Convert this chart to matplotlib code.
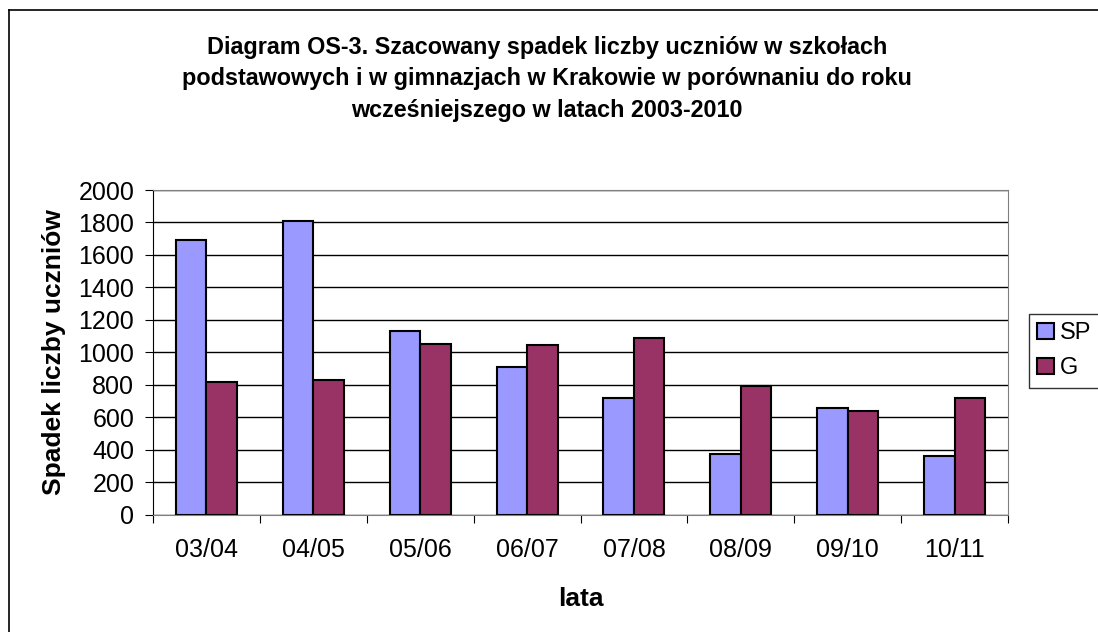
import numpy as np
import matplotlib
matplotlib.use("Agg")
import matplotlib.pyplot as plt
from matplotlib.lines import Line2D

plt.rcParams['font.family'] = ['Liberation Sans', 'DejaVu Sans']

lata = ["03/04", "04/05", "05/06", "06/07", "07/08", "08/09", "09/10", "10/11"]
sp = [1690, 1810, 1130, 910, 720, 370, 655, 360]
g = [815, 830, 1050, 1045, 1090, 790, 640, 715]

fig = plt.figure(figsize=(10.98, 6.32), dpi=100)
ax = fig.add_axes([153/1098, 1 - 514.5/632, (1008 - 153)/1098, (514.5 - 190)/632])

x = np.arange(len(lata))
w = 0.285
ax.bar(x - w/2, sp, w, color="#9999FF", edgecolor="black", linewidth=1.5, label="SP", zorder=3)
ax.bar(x + w/2, g, w, color="#993366", edgecolor="black", linewidth=1.5, label="G", zorder=3)

ax.set_xlim(-0.5, len(lata) - 0.5)
ax.set_ylim(0, 2000)
ax.set_yticks(range(0, 2001, 200))
ax.yaxis.grid(True, color="black", linewidth=1, zorder=0)
ax.set_axisbelow(True)

ax.set_xticks(np.arange(-0.5, len(lata), 1))
ax.set_xticklabels([])
ax.set_xticks(x, minor=True)
ax.set_xticklabels(lata, minor=True)
ax.tick_params(axis="x", which="major", length=6, direction="out", color="black")
ax.tick_params(axis="x", which="minor", length=0, labelsize=18, pad=17)
ax.tick_params(axis="y", length=6, direction="out", labelsize=18, pad=7.5)

for s in ["top", "right"]:
    ax.spines[s].set_color("#808080")
ax.spines["left"].set_color("black")
ax.spines["bottom"].set_color("#808080")

ax.set_ylabel("Spadek liczby uczniów", fontsize=19, fontweight="bold", labelpad=9)
ax.set_xlabel("lata", fontsize=19, fontweight="bold", labelpad=18)

fig.text(0.5 - 0.002, 1 - 79/632,
         "Diagram OS-3. Szacowany spadek liczby uczniów w szkołach\n"
         "podstawowych i w gimnazjach w Krakowie w porównaniu do roku\n"
         "wcześniejszego w latach 2003-2010",
         ha="center", va="center", fontsize=16.8, fontweight="bold", linespacing=1.45)

leg = ax.legend(loc="upper left", bbox_to_anchor=(1029/1098, 1 - 314/632),
                bbox_transform=fig.transFigure, frameon=True, fancybox=False,
                fontsize=17, handlelength=0.72, handleheight=0.72, handletextpad=0.25,
                borderpad=0.35, labelspacing=0.55, borderaxespad=0)
leg.get_frame().set_edgecolor("black")
leg.get_frame().set_linewidth(1)

# outer chart border (left and top only visible)
fig.add_artist(Line2D([9/1098, 9/1098], [0, 1 - 10/632], color="black", lw=1.2, transform=fig.transFigure))
fig.add_artist(Line2D([9/1098, 1], [1 - 10/632, 1 - 10/632], color="black", lw=1.2, transform=fig.transFigure))

fig.savefig("out.png", dpi=100)
